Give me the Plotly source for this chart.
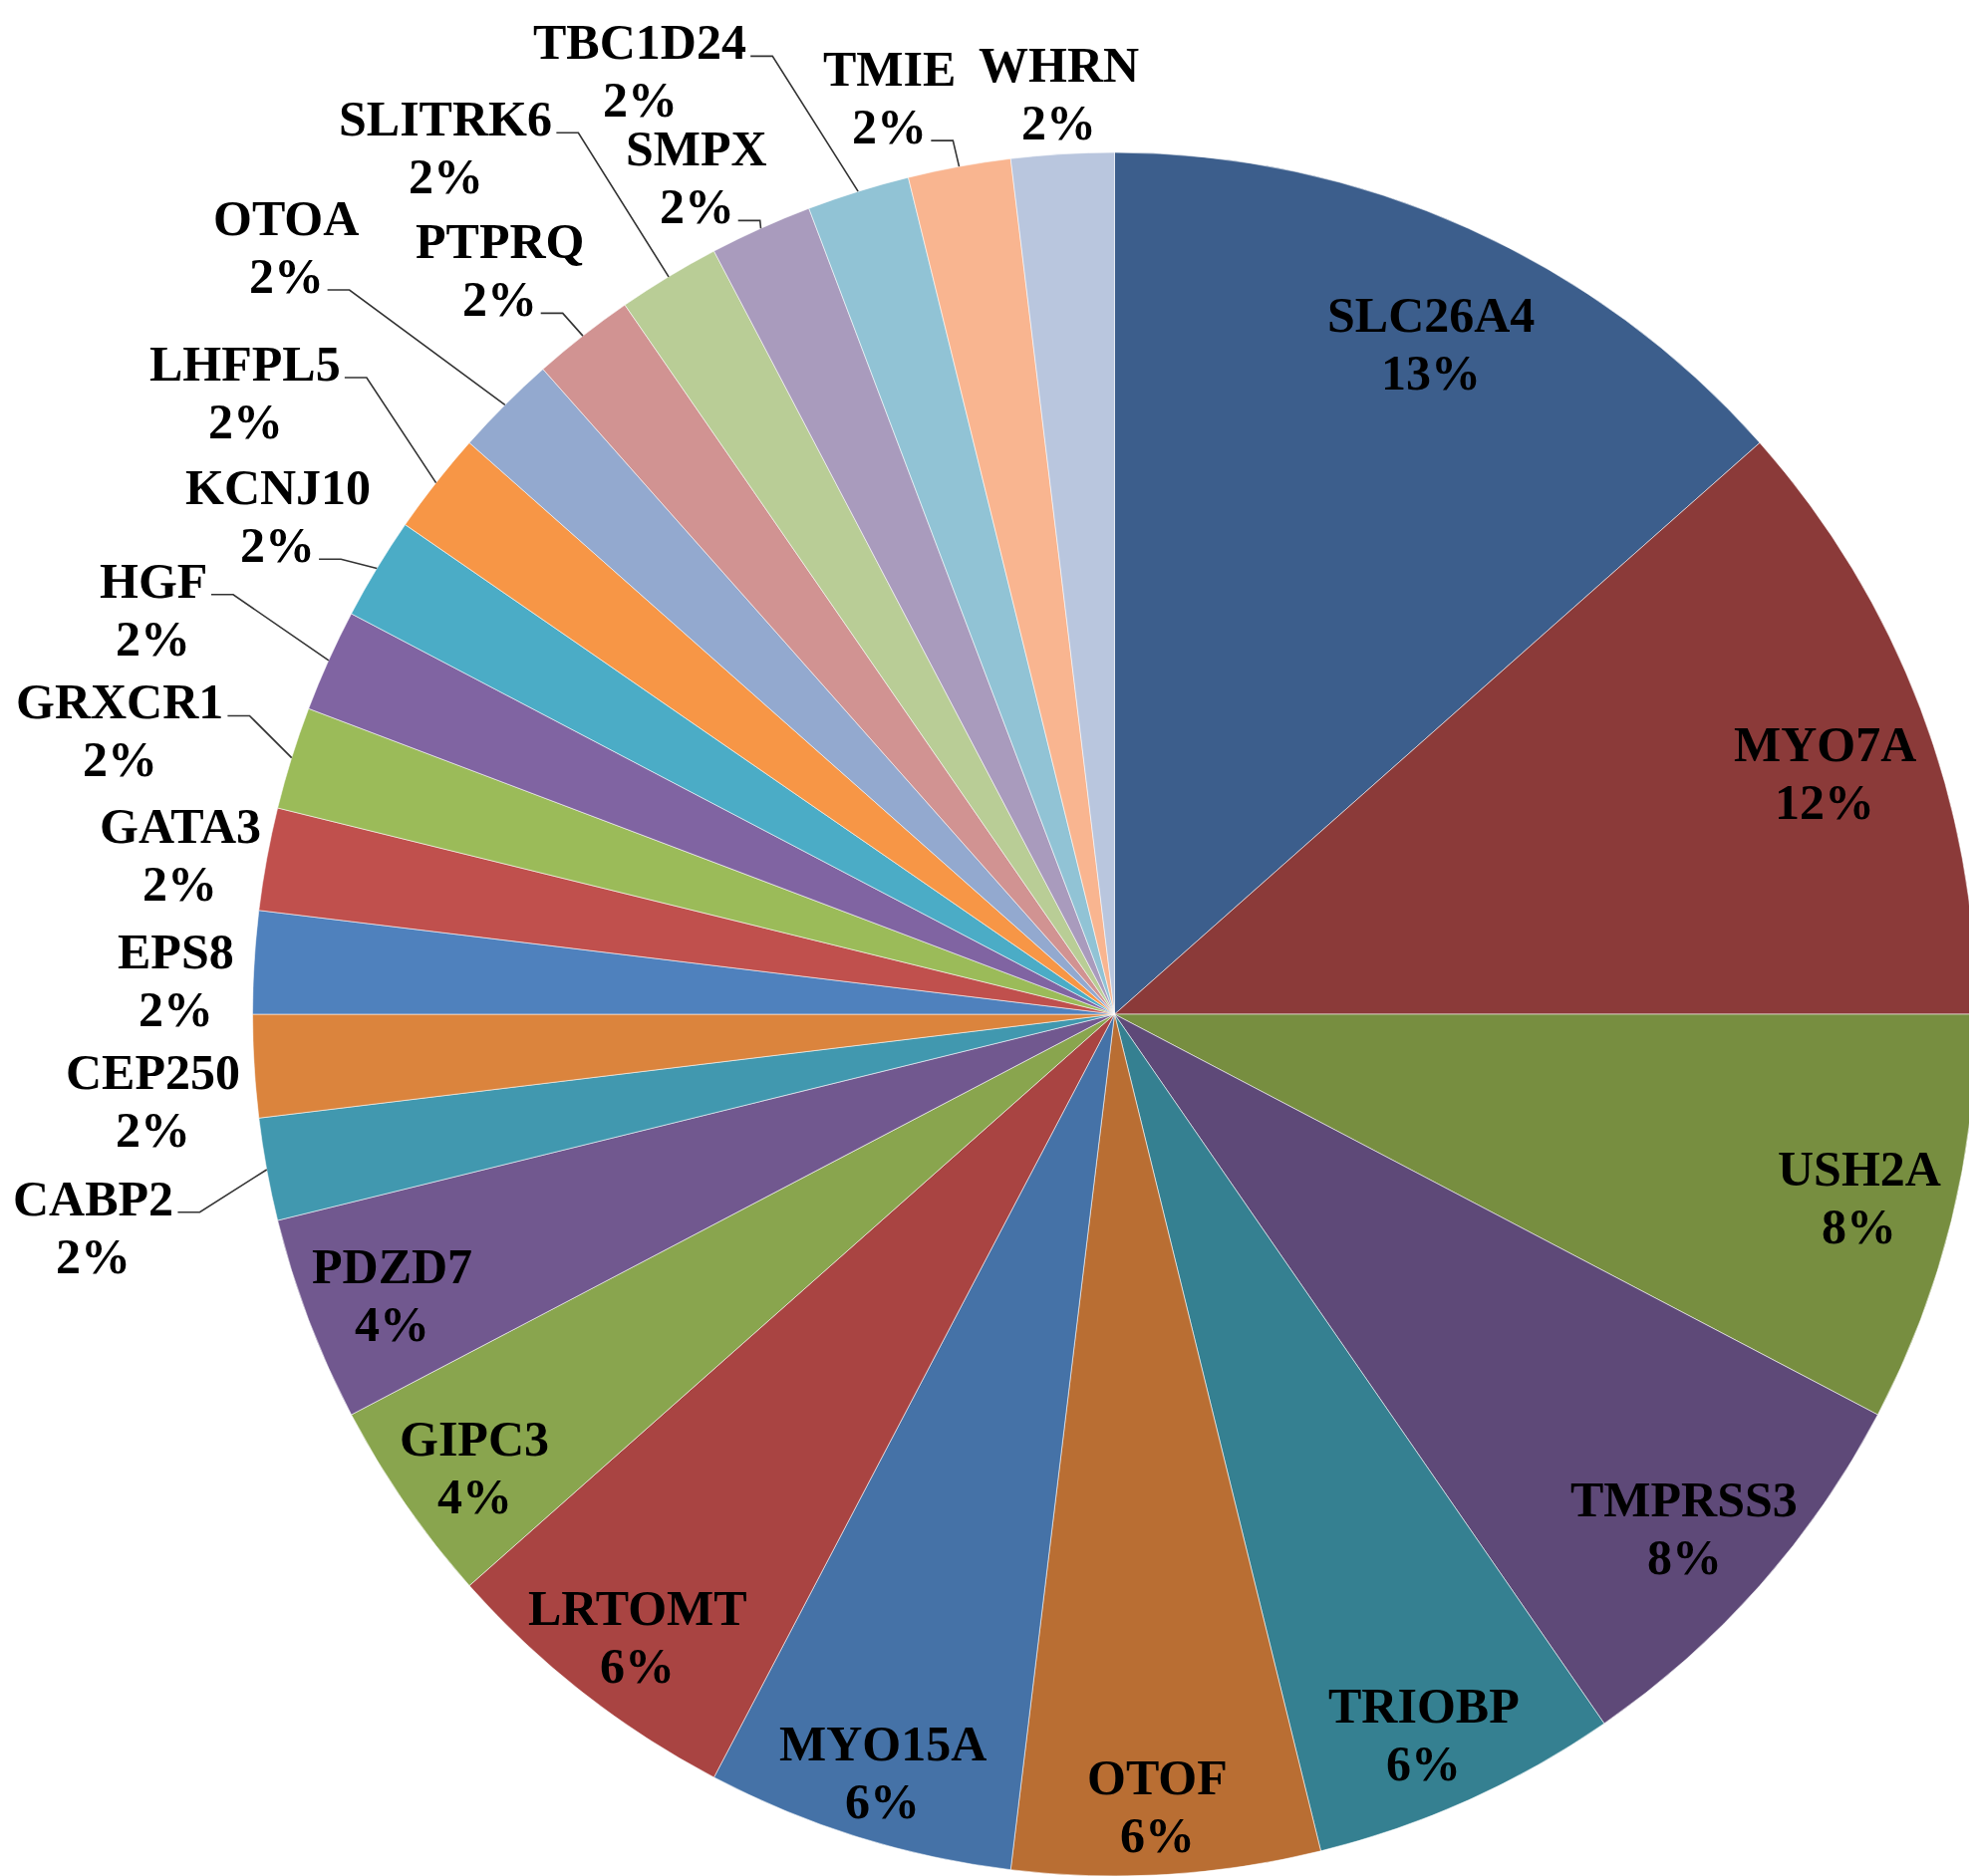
import numpy as np
import plotly.graph_objects as go

# gene counts (52 families in total)
genes = ['SLC26A4', 'MYO7A', 'USH2A', 'TMPRSS3', 'TRIOBP', 'OTOF', 'MYO15A',
         'LRTOMT', 'GIPC3', 'PDZD7', 'CABP2', 'CEP250', 'EPS8', 'GATA3',
         'GRXCR1', 'HGF', 'KCNJ10', 'LHFPL5', 'OTOA', 'PTPRQ', 'SLITRK6',
         'SMPX', 'TBC1D24', 'TMIE', 'WHRN']
counts = [7, 6, 4, 4, 3, 3, 3, 3, 2, 2, 1, 1, 1, 1, 1, 1, 1, 1, 1, 1, 1, 1, 1, 1, 1]
colors = ['#3C5E8C', '#8B3A39', '#778E40', '#5E4978', '#358091', '#B96E33',
          '#4572A7', '#A94442', '#89A54E', '#71588F', '#4198AF', '#DB843D',
          '#4F81BD', '#C0504D', '#9BBB59', '#8064A2', '#4BACC6', '#F79646',
          '#93A9CF', '#D19392', '#B9CD96', '#A99BBD', '#91C3D5', '#F9B590',
          '#B9C6DE']

# label placement: radius factor, angle nudge (deg), leader line anchor
label_r = [0.86, 0.87, 0.89, 0.89, 0.91, 0.92, 0.92, 0.91, 0.91, 0.90,
           1.21, 1.12, 1.09, 1.10, 1.20, 1.21, 1.13, 1.24, 1.31, 1.12,
           1.27, 1.085, 1.225, 1.095, 1.07]
label_da = [1, 2, 0, 0.5, 1, 0.4, -0.3, -0.6, -0.7, -0.5,
            -1.4, -1.7, -1.4, -0.7, -1.4, -1.4, -0.4, -2.5, -2.2, -1.5,
            -6.5, -2.3, -9.4, -3.4, 0]
leader = [None] * 10 + ['name', None, None, None, 'name', 'name', 'pct', 'name',
                        'pct', 'pct', 'name', 'pct', 'name', 'pct', None]

W, H = 1984, 1883
CX, CY, R = 1110.5, 1010, 865
FS = 50
LINE = 29

# Times bold advance widths (per 1000 em) for leader anchoring
TW = dict(A=722, B=667, C=722, D=722, E=667, F=611, G=778, H=778, I=389, J=500,
          K=778, L=667, M=944, N=722, O=778, P=611, Q=778, R=722, S=556, T=667,
          U=722, W=1000, X=722, Y=722, Z=667)
TW.update({d: 500 for d in '0123456789'})
TW['%'] = 1000


def text_w(s):
    return sum(TW.get(ch, 600) for ch in s) * FS / 1000


vals = np.array(counts, dtype=float)
total = vals.sum()
pcts = ['{:d}%'.format(int(round(100 * v / total))) for v in vals]
mids = (np.cumsum(vals) - vals / 2) / total * 360

fig = go.Figure()
fig.add_trace(go.Pie(labels=genes, values=counts, sort=False, direction='clockwise',
                     rotation=0, textinfo='none', showlegend=False,
                     marker=dict(colors=colors, line=dict(color='rgba(255,255,255,0.55)', width=1)),
                     domain=dict(x=[(CX - R) / W, (CX + R) / W],
                                 y=[(H - CY - R) / H, (H - CY + R) / H])))

font = dict(family='Liberation Serif', size=FS, color='black', weight='bold')
for i, g in enumerate(genes):
    th = np.radians(mids[i] + label_da[i])
    lx = CX + label_r[i] * R * np.sin(th)
    ly = CY - label_r[i] * R * np.cos(th)
    for txt, yy in ((g, ly - LINE), (pcts[i], ly + LINE)):
        fig.add_annotation(x=lx / W, y=1 - yy / H, xref='paper', yref='paper',
                           text=txt, showarrow=False, font=font,
                           xanchor='center', yanchor='middle')
    if leader[i]:
        if leader[i] == 'name':
            ax, ay = lx + text_w(g) / 2 + 4, ly - LINE + 14
        else:
            ax, ay = lx + text_w(pcts[i]) / 2 + 4, ly + LINE + 14
        th0 = np.radians(mids[i])
        ex, ey = CX + R * np.sin(th0), CY - R * np.cos(th0)
        pts = [(ax, ay), (ax + 22, ay), (ex, ey)]
        path = 'M ' + ' L '.join('{:.4f},{:.4f}'.format(px / W, 1 - py / H) for px, py in pts)
        fig.add_shape(type='path', path=path, xref='paper', yref='paper',
                      line=dict(color='#333333', width=1.6))

fig.update_layout(width=W, height=H, margin=dict(l=0, r=0, t=0, b=0),
                  paper_bgcolor='white', plot_bgcolor='white', showlegend=False)
fig.write_html('out.html')
